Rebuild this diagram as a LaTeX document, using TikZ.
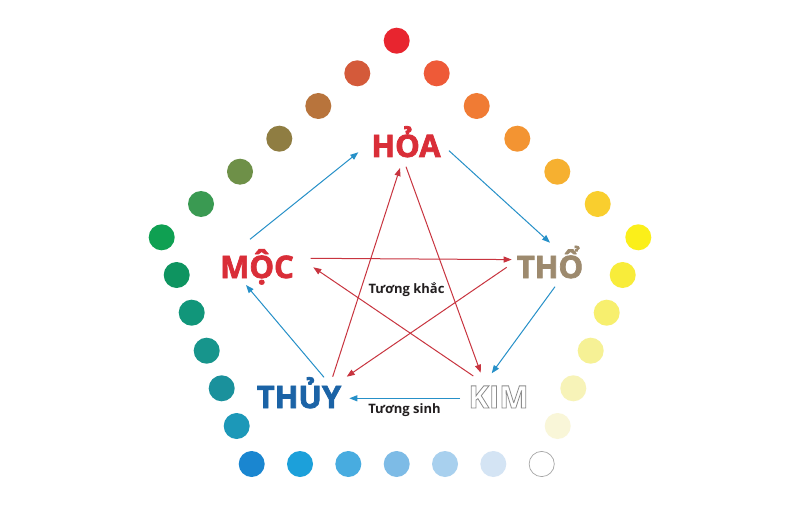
\documentclass[tikz,border=0pt]{standalone}
\usepackage{fontspec}
\setmainfont{Open Sans}
\usetikzlibrary{arrows.meta}
\definecolor{hoared}{HTML}{D92E38}
\definecolor{thobrown}{HTML}{9D8A6E}
\definecolor{thuyblue}{HTML}{1B63A6}
\definecolor{kimgray}{HTML}{8C8C8C}
\definecolor{sinhblue}{HTML}{2690C8}
\definecolor{khacred}{HTML}{C8343F}
\definecolor{labeldark}{HTML}{231F20}
\newcommand{\outlinetext}[1]{\special{pdf:literal 1 Tr 0.8 w}#1\special{pdf:literal 0 Tr}}
\newcommand{\heavytext}[1]{\special{pdf:literal 2 Tr 0.7 w}#1\special{pdf:literal 0 Tr}}
\tikzset{
  sinh/.style={draw=sinhblue, line width=1pt, -{Triangle[length=8pt,width=6pt]}},
  khac/.style={draw=khacred, line width=1pt, -{Triangle[length=8pt,width=6pt]}},
  big/.style={font=\fontsize{31}{31}\selectfont\bfseries, inner sep=0pt, anchor=base},
  small/.style={font=\fontsize{13}{13}\selectfont\bfseries, text=labeldark, inner sep=0pt, anchor=base},
}
\begin{document}
\begin{tikzpicture}[x=1pt,y=-1pt]
\useasboundingbox (0,0) rectangle (800,505);
\fill[white] (0,0) rectangle (800,505);
% coloured dots
\foreach \x/\y/\c in {
  396.7/40.7/E8252F,
  357.3/73.3/D45A3A, 318.3/106/B8743C, 279.3/138.7/8F7D42, 240/171.7/6E9048, 201/204/3A9A52, 161.7/237.3/0FA052,
  176.7/275/0E9460, 191.7/312.7/11967A, 206.7/350.7/17958C, 221.7/388.3/1A919C, 236.7/426/1C98B8,
  251.7/464/1A86D0, 300/464/1CA0DA, 348.3/464/48ACE0, 396.7/464/7DBBE6, 445/464/A8D0EE, 493.3/464/D4E4F4,
  436.7/73.3/EE5A38, 476.7/106/F07B34, 517.3/138.7/F39432, 557.3/171.7/F6B030, 597.7/204/F9CE2E, 638.3/237.3/FBEF1A,
  622.7/275/F8EC3A, 606.7/312.7/F7EF6E, 590.7/350.7/F6F195, 573.3/388.3/F7F3B8, 557.7/426/F9F6D8}
  {\definecolor{dotc}{HTML}{\c}\fill[dotc] (\x,\y) circle (13);}
\draw[gray!70, line width=0.7pt, fill=white] (541.7,464) circle (12.6);
% labels
\node[big, text=hoared] (hoa) at (406,157) {\heavytext{HỎA}};
\node[big, text=hoared] (moc) at (257,278) {\heavytext{MỘC}};
\node[big, text=thobrown] (tho) at (550,278) {\heavytext{THỔ}};
\node[big, text=thuyblue] (thuy) at (299,408) {\heavytext{THỦY}};
\node[big, text=kimgray] (kim) at (498.5,408) {\outlinetext{KIM}};
\node[small] (khac) at (406.5,293) {Tương khắc};
\node[small] (sinh) at (404.5,413) {Tương sinh};
% arrow end points
\coordinate (s1a) at (250,239.3);   \coordinate (s1b) at (358.3,152.3);
\coordinate (s2a) at (449,150.7);   \coordinate (s2b) at (550,242.7);
\coordinate (s3a) at (555,286.7);   \coordinate (s3b) at (491.7,373.3);
\coordinate (s4a) at (460,398.3);   \coordinate (s4b) at (349.3,398.3);
\coordinate (s5a) at (324,377.3);   \coordinate (s5b) at (246,285);
\coordinate (k1a) at (310.7,258.3); \coordinate (k1b) at (511.7,259.6);
\coordinate (k2a) at (506.7,267.3); \coordinate (k2b) at (346.7,376.7);
\coordinate (k3a) at (332.7,376.7); \coordinate (k3b) at (400,168);
\coordinate (k4a) at (406,166.7);   \coordinate (k4b) at (480.7,372.7);
\coordinate (k5a) at (473.3,376);   \coordinate (k5b) at (313.3,267.3);
% tuong sinh (blue cycle)
\draw[sinh] (s1a) -- (s1b);
\draw[sinh] (s2a) -- (s2b);
\draw[sinh] (s3a) -- (s3b);
\draw[sinh] (s4a) -- (s4b);
\draw[sinh] (s5a) -- (s5b);
% tuong khac (red star)
\draw[khac] (k1a) -- (k1b);
\draw[khac] (k2a) -- (k2b);
\draw[khac] (k3a) -- (k3b);
\draw[khac] (k4a) -- (k4b);
\draw[khac] (k5a) -- (k5b);
\end{tikzpicture}
\end{document}
